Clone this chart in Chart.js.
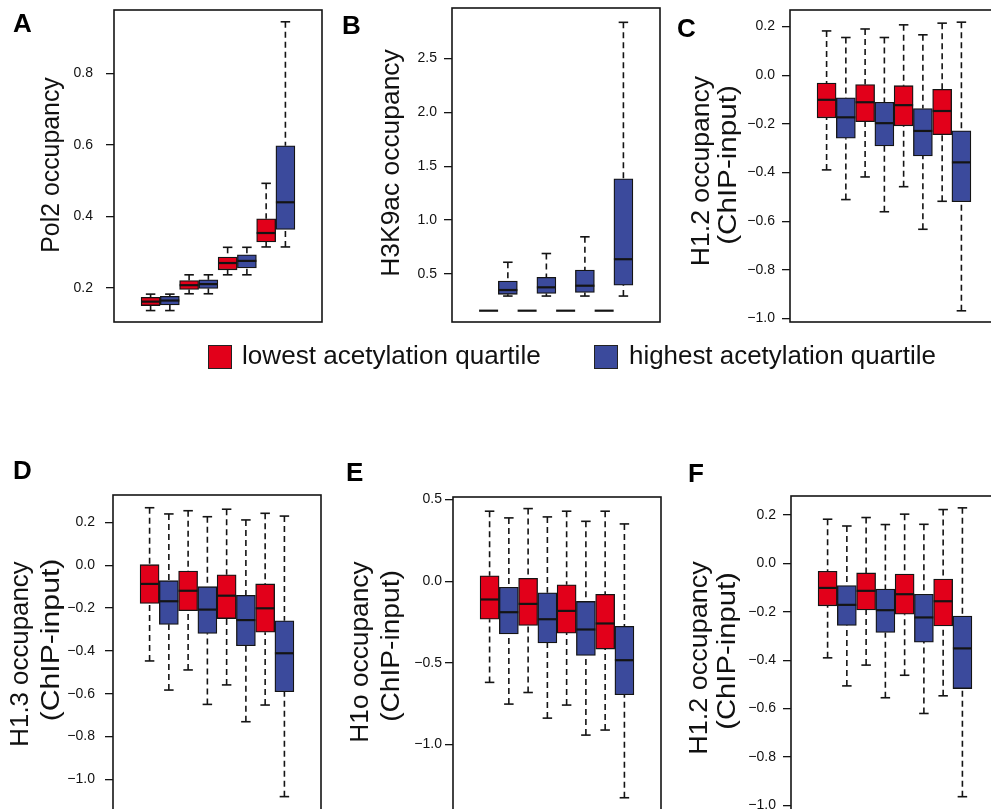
<!DOCTYPE html>
<html>
<head>
<meta charset="utf-8">
<script src="https://cdn.jsdelivr.net/npm/chart.js@4.4.1/dist/chart.umd.min.js"></script>
<style>
  html, body { margin: 0; padding: 0; width: 991px; height: 809px; overflow: hidden; background: #fff; }
  body { position: relative; font-family: "Liberation Sans", Arial, sans-serif; color: #111; }
  canvas { position: absolute; }
  .txt { position: absolute; white-space: nowrap; line-height: 1; }
  .tag { position: absolute; font-weight: bold; font-size: 26px; line-height: 1; color: #000; }
  .swatch { position: absolute; width: 24px; height: 24px; border: 1px solid #222; box-sizing: border-box; }
</style>
</head>
<body>
<script>
// each box: [lower whisker, Q1, median, Q3, upper whisker]
const pol2 = [
  [0.136, 0.150, 0.161, 0.173, 0.182], [0.136, 0.152, 0.164, 0.176, 0.182],
  [0.183, 0.195, 0.207, 0.220, 0.236], [0.183, 0.198, 0.210, 0.222, 0.236],
  [0.236, 0.250, 0.269, 0.286, 0.313], [0.236, 0.255, 0.275, 0.292, 0.313],
  [0.314, 0.328, 0.353, 0.393, 0.492], [0.314, 0.363, 0.439, 0.597, 0.944]
];
const h3k9ac = [
  [0.159, 0.159, 0.159, 0.159, 0.159], [0.295, 0.311, 0.351, 0.435, 0.609],
  [0.159, 0.159, 0.159, 0.159, 0.159], [0.295, 0.320, 0.376, 0.469, 0.690],
  [0.159, 0.159, 0.159, 0.159, 0.159], [0.295, 0.329, 0.391, 0.537, 0.845],
  [0.159, 0.159, 0.159, 0.159, 0.159], [0.295, 0.396, 0.637, 1.383, 2.837]
];
const h12 = [
  [-0.389, -0.175, -0.101, -0.032, 0.182], [-0.511, -0.259, -0.173, -0.093, 0.155],
  [-0.418, -0.191, -0.111, -0.038, 0.190], [-0.561, -0.291, -0.197, -0.111, 0.155],
  [-0.458, -0.208, -0.123, -0.043, 0.207], [-0.633, -0.332, -0.229, -0.137, 0.166],
  [-0.518, -0.244, -0.147, -0.058, 0.214], [-0.968, -0.520, -0.358, -0.228, 0.218]
];
const h13 = [
  [-0.447, -0.178, -0.087, 0.003, 0.269], [-0.583, -0.276, -0.168, -0.072, 0.240],
  [-0.489, -0.212, -0.119, -0.027, 0.255], [-0.650, -0.318, -0.207, -0.100, 0.227],
  [-0.559, -0.249, -0.142, -0.044, 0.262], [-0.731, -0.376, -0.256, -0.140, 0.212],
  [-0.653, -0.313, -0.201, -0.087, 0.243], [-1.081, -0.591, -0.411, -0.259, 0.230]
];
const h1o = [
  [-0.620, -0.233, -0.112, 0.033, 0.429], [-0.753, -0.323, -0.190, -0.037, 0.388],
  [-0.682, -0.271, -0.139, 0.018, 0.445], [-0.839, -0.378, -0.233, -0.071, 0.394],
  [-0.759, -0.318, -0.182, -0.022, 0.429], [-0.943, -0.455, -0.296, -0.124, 0.367],
  [-0.912, -0.416, -0.259, -0.080, 0.429], [-1.327, -0.696, -0.484, -0.276, 0.351]
];
const h12b = [
  [-0.390, -0.175, -0.101, -0.032, 0.183], [-0.506, -0.256, -0.171, -0.091, 0.155],
  [-0.420, -0.192, -0.113, -0.039, 0.190], [-0.555, -0.285, -0.193, -0.106, 0.161],
  [-0.462, -0.210, -0.127, -0.044, 0.204], [-0.620, -0.325, -0.223, -0.127, 0.162],
  [-0.547, -0.258, -0.156, -0.064, 0.223], [-0.964, -0.517, -0.351, -0.217, 0.230]
];
const boxQuartile = ["lowest", "highest", "lowest", "highest", "lowest", "highest", "lowest", "highest"];

const pol2Ticks = [0.2, 0.4, 0.6, 0.8];
const h3k9acTicks = [0.5, 1.0, 1.5, 2.0, 2.5];
const h1xTicks = [0.2, 0.0, -0.2, -0.4, -0.6, -0.8, -1.0];
const h1oTicks = [0.5, 0.0, -0.5, -1.0];

const legendLabels = ["lowest acetylation quartile", "highest acetylation quartile"];

const RED = "#e2001a";
const BLUE = "#3b4a9c";
const INK = "#141414";
const AX = 90, PAD = 30, PLOT_W = 208, BAR_W = 19;

const panels = [
  { tag: "A", tagAt: [13, 10], stats: pol2, ticks: pol2Ticks, min: 0.104, max: 0.977,
    left: 114, top: 10, bottom: 322, pad: 13,
    titles: [["Pol2 occupancy", 49.5, 165, 176]] },
  { tag: "B", tagAt: [342, 12], stats: h3k9ac, ticks: h3k9acTicks, min: 0.054, max: 2.97,
    left: 452, top: 8, bottom: 322, pad: 7,
    titles: [["H3K9ac occupancy", 390, 163, 227]] },
  { tag: "C", tagAt: [677, 15], stats: h12, ticks: h1xTicks, min: -1.014, max: 0.268,
    left: 790, top: 10, bottom: 322, pad: 7,
    titles: [["H1.2 occupancy", 699.5, 171, 190], ["(ChIP-input)", 727, 165, 160]] },
  { tag: "D", tagAt: [13, 457], stats: h13, ticks: h1xTicks, min: -1.1435, max: 0.3285,
    left: 113, top: 495, bottom: 810, pad: 10,
    titles: [["H1.3 occupancy", 19, 654, 185], ["(ChIP-input)", 49.5, 640, 163]] },
  { tag: "E", tagAt: [346, 459], stats: h1o, ticks: h1oTicks, min: -1.402, max: 0.516,
    left: 453, top: 497, bottom: 810, pad: 3,
    titles: [["H1o occupancy", 359, 652, 181], ["(ChIP-input)", 389.5, 646, 152]] },
  { tag: "F", tagAt: [688, 460], stats: h12b, ticks: h1xTicks, min: -1.019, max: 0.279,
    left: 791, top: 496, bottom: 810, pad: 7,
    titles: [["H1.2 occupancy", 698, 658, 193], ["(ChIP-input)", 725.5, 651, 158]] }
];

function fmtTick(v) {
  const s = Math.abs(v).toFixed(1);
  return v < -1e-9 ? "\u2212" + s : s;
}

function boxPlugin(stats) {
  const seg = (ctx, x1, y1, x2, y2) => {
    ctx.beginPath(); ctx.moveTo(x1, y1); ctx.lineTo(x2, y2); ctx.stroke();
  };
  return {
    id: "boxplot",
    beforeDatasetsDraw(chart) {
      const { ctx, scales: { x, y } } = chart;
      ctx.save();
      ctx.strokeStyle = INK;
      ctx.lineWidth = 1.6;
      stats.forEach((s, i) => {
        const px = x.getPixelForValue(i + 1);
        const [lo, q1, , q3, hi] = s.map(v => y.getPixelForValue(v));
        if (hi < q3 - 0.5 || lo > q1 + 0.5) {
          ctx.setLineDash([6, 4]);
          seg(ctx, px, hi, px, q3);
          seg(ctx, px, lo, px, q1);
          ctx.setLineDash([]);
          seg(ctx, px - BAR_W / 4, hi, px + BAR_W / 4, hi);
          seg(ctx, px - BAR_W / 4, lo, px + BAR_W / 4, lo);
        }
      });
      ctx.restore();
    },
    afterDatasetsDraw(chart) {
      const { ctx, scales: { x, y } } = chart;
      ctx.save();
      ctx.strokeStyle = INK;
      ctx.lineWidth = 2.2;
      stats.forEach((s, i) => {
        const px = x.getPixelForValue(i + 1);
        const py = y.getPixelForValue(s[2]);
        seg(ctx, px - BAR_W / 2, py, px + BAR_W / 2, py);
      });
      ctx.restore();
    },
    afterDraw(chart) {
      const { ctx, chartArea: a } = chart;
      ctx.save();
      ctx.strokeStyle = INK;
      ctx.lineWidth = 1.6;
      ctx.strokeRect(a.left, a.top, a.right - a.left, a.bottom - a.top);
      ctx.restore();
    }
  };
}

function makePanel(p) {
  const cv = document.createElement("canvas");
  const h = p.bottom - p.top + 2 * PAD;
  cv.width = AX + PLOT_W + PAD;
  cv.height = h;
  cv.style.left = (p.left - AX) + "px";
  cv.style.top = (p.top - PAD) + "px";
  document.body.appendChild(cv);

  new Chart(cv, {
    type: "bar",
    data: {
      datasets: [{
        data: p.stats.map((s, i) => ({ x: i + 1, y: [s[1], s[3]] })),
        backgroundColor: boxQuartile.map(q => q === "lowest" ? RED : BLUE),
        borderColor: INK,
        borderWidth: 1.3,
        borderSkipped: false,
        barThickness: BAR_W
      }]
    },
    options: {
      responsive: false,
      animation: false,
      events: [],
      layout: { padding: { left: 0, top: PAD, right: PAD, bottom: PAD } },
      plugins: { legend: { display: false }, tooltip: { enabled: false } },
      scales: {
        x: { type: "linear", min: 0.18, max: 8.82, display: false },
        y: {
          type: "linear",
          min: p.min,
          max: p.max,
          bounds: "data",
          afterBuildTicks: s => { s.ticks = p.ticks.map(v => ({ value: v })); },
          afterFit: s => { s.width = AX; },
          grid: { drawOnChartArea: false, drawTicks: true, tickLength: 8, color: INK, lineWidth: 1.3 },
          border: { display: false },
          ticks: {
            padding: p.pad,
            color: "#111",
            font: { family: "'Liberation Sans', Arial, sans-serif", size: 14 },
            callback: v => fmtTick(v)
          }
        }
      }
    },
    plugins: [boxPlugin(p.stats)]
  });

  const tag = document.createElement("div");
  tag.className = "tag";
  tag.textContent = p.tag;
  tag.style.left = p.tagAt[0] + "px";
  tag.style.top = p.tagAt[1] + "px";
  document.body.appendChild(tag);

  p.titles.forEach(([text, cx, cy, len]) => {
    const el = document.createElement("div");
    el.className = "txt";
    el.style.fontSize = "25px";
    el.textContent = text;
    document.body.appendChild(el);
    const k = len / el.offsetWidth;
    el.style.left = cx + "px";
    el.style.top = cy + "px";
    el.style.transform = `translate(-50%, -50%) rotate(-90deg) scaleX(${k})`;
  });
}

panels.forEach(makePanel);

// legend
const legendItems = [
  { colour: RED, box: 208, text: 242, len: 299 },
  { colour: BLUE, box: 594, text: 629, len: 307 }
];
legendItems.forEach((it, i) => {
  const sw = document.createElement("div");
  sw.className = "swatch";
  sw.style.left = it.box + "px";
  sw.style.top = "345px";
  sw.style.background = it.colour;
  document.body.appendChild(sw);

  const el = document.createElement("div");
  el.className = "txt";
  el.style.fontSize = "26px";
  el.textContent = legendLabels[i];
  document.body.appendChild(el);
  const k = it.len / el.offsetWidth;
  el.style.left = it.text + "px";
  el.style.top = "355px";
  el.style.transformOrigin = "0 50%";
  el.style.transform = `translateY(-50%) scaleX(${k})`;
});
</script>
</body>
</html>
